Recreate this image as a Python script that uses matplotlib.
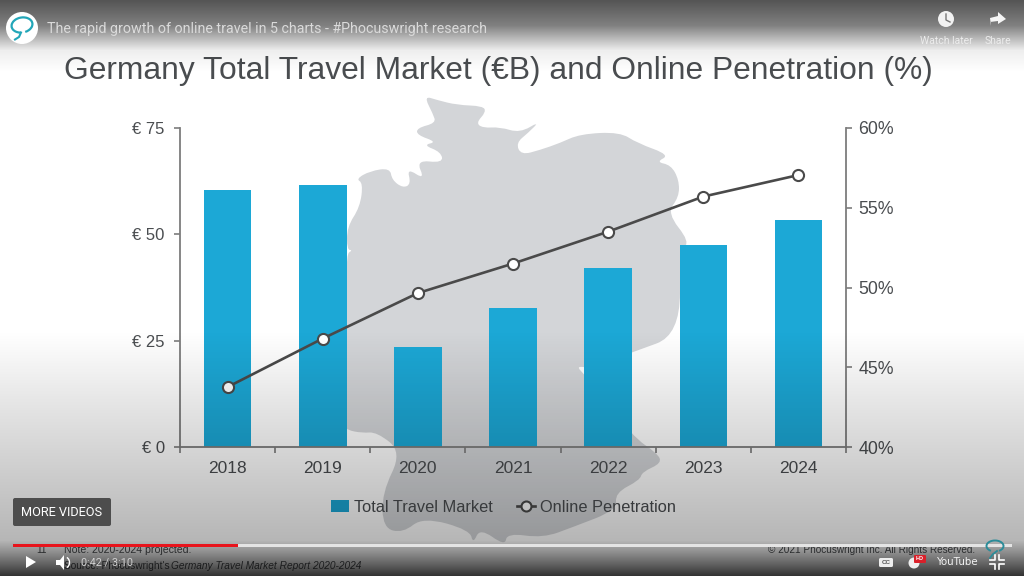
import numpy as np
import matplotlib
matplotlib.use("Agg")
import matplotlib.pyplot as plt
from matplotlib.patches import Polygon, Circle, Rectangle, FancyBboxPatch, PathPatch, Arc
from matplotlib.path import Path
from matplotlib.lines import Line2D

plt.rcParams['font.family'] = ['Liberation Sans', 'DejaVu Sans']

# Data
years = ['2018', '2019', '2020', '2021', '2022', '2023', '2024']
market = [60.4, 61.6, 23.5, 32.7, 42.1, 47.5, 53.4]
online = [43.76, 46.8, 49.65, 51.5, 53.5, 55.7, 57.05]
left_ticks = [0, 25, 50, 75]
left_labels = ['€ 0', '€ 25', '€ 50', '€ 75']
right_ticks = [40, 45, 50, 55, 60]
right_labels = ['40%', '45%', '50%', '55%', '60%']

# Outline of the map behind the chart, in picture pixels
map_outline = [
    (424, 96), (437, 100), (457, 105), (483, 106), (486, 112), (476, 123), (483, 128),
    (500, 127), (520, 133), (540, 121), (528, 133), (516, 143), (521, 155), (540, 150),
    (560, 143), (580, 134), (620, 132), (637, 143), (670, 155), (656, 162), (671, 165),
    (679, 180), (679, 197), (667, 213), (690, 242), (680, 250), (680, 335), (633, 352),
    (590, 368), (576, 366), (585, 375), (633, 437), (657, 453), (662, 463), (642, 472),
    (640, 480), (615, 493), (617, 510), (573, 527), (543, 538), (507, 533), (505, 546),
    (480, 528), (473, 544), (470, 530), (423, 517), (403, 533), (383, 528), (382, 493),
    (402, 452), (377, 432), (362, 433), (347, 430), (345, 425), (345, 255), (353, 250),
    (347, 250), (347, 227), (360, 207), (363, 183), (356, 179), (370, 171), (390, 168),
    (392, 180), (403, 188), (411, 184), (407, 168), (425, 180), (416, 160), (443, 163),
    (441, 152), (423, 145), (437, 142), (417, 135), (417, 128), (436, 123), (433, 114),
]

W, H = 1024, 576
TEXT = '#4a4d50'
AXIS = '#7d7d7d'
BAR = '#1ca8d6'

fig = plt.figure(figsize=(W / 100, H / 100), dpi=100, facecolor='white')


def pixel_axes(zorder):
    a = fig.add_axes([0, 0, 1, 1], zorder=zorder)
    a.set_xlim(0, W)
    a.set_ylim(H, 0)
    a.axis('off')
    a.patch.set_alpha(0)
    return a


def rounded_path(points):
    # quadratic curves through the midpoints, the map has soft edges
    pts = np.array(points, dtype=float)
    mids = (pts + np.roll(pts, -1, axis=0)) / 2
    verts = [mids[-1]]
    codes = [Path.MOVETO]
    for p, m in zip(pts, mids):
        verts += [p, m]
        codes += [Path.CURVE3, Path.CURVE3]
    return Path(verts, codes)


# Slide background and map
back = pixel_axes(0)
back.add_patch(PathPatch(rounded_path(map_outline), facecolor='#d3d5d8', edgecolor='none'))
back.text(498, 71, 'Germany Total Travel Market (€B) and Online Penetration (%)',
          ha='center', va='center', fontsize=22.9, color=TEXT)
back.text(42, 550, '11', ha='center', va='center', fontsize=7.3, color=TEXT)
back.text(64, 550, 'Note: 2020-2024 projected.', va='center', fontsize=7.6, color=TEXT)
back.text(64, 566, "Source: Phocuswright's", va='center', fontsize=7.3, color=TEXT)
back.text(171, 566, 'Germany Travel Market Report 2020-2024', va='center', fontsize=7.3,
          style='italic', color=TEXT)
back.text(975, 550, '© 2021 Phocuswright Inc. All Rights Reserved.', ha='right', va='center',
          fontsize=7.2, color=TEXT)

# Chart
ax = fig.add_axes([180 / W, (H - 447) / H, 666 / W, 319 / H], zorder=1)
ax.patch.set_alpha(0)
x = np.arange(len(years))
bars = ax.bar(x, market, width=0.5, color=BAR, zorder=2)
ax.set_xlim(-0.5, 6.5)
ax.set_ylim(0, 75)
ax.set_yticks(left_ticks)
ax.set_yticklabels(left_labels, fontsize=12, color=TEXT)
ax.set_xticks(np.arange(-0.5, 7, 1))
ax.set_xticklabels([])
ax.set_xticks(x, minor=True)
ax.set_xticklabels(years, minor=True, fontsize=12.5, color=TEXT)
ax.tick_params(axis='x', which='major', length=4, width=1.2, color=AXIS)
ax.tick_params(axis='x', which='minor', length=0, pad=10)
ax.tick_params(axis='y', length=4, width=1.2, color=AXIS, pad=7)
for side in ['top', 'right']:
    ax.spines[side].set_visible(False)
for side in ['left', 'bottom']:
    ax.spines[side].set_color(AXIS)
    ax.spines[side].set_linewidth(1.3)

ax2 = ax.twinx()
ax2.patch.set_alpha(0)
line, = ax2.plot(x, online, color='#4a4a4a', linewidth=1.9, marker='o', markersize=8,
                 markerfacecolor='white', markeredgecolor='#4a4a4a', markeredgewidth=1.5,
                 clip_on=False)
ax2.set_ylim(40, 60)
ax2.set_yticks(right_ticks)
ax2.set_yticklabels(right_labels, fontsize=12.8, color=TEXT)
ax2.tick_params(axis='y', length=4, width=1.2, color=AXIS, pad=5)
for side in ['top', 'left', 'bottom']:
    ax2.spines[side].set_visible(False)
ax2.spines['right'].set_color(AXIS)
ax2.spines['right'].set_linewidth(1.3)

ax2.legend([bars, line], ['Total Travel Market', 'Online Penetration'], ncol=2,
           loc='center', bbox_to_anchor=((503.5 - 180) / 666, (447 - 507) / 319), frameon=False,
           fontsize=11.8, labelcolor=TEXT, handlelength=1.1, handletextpad=0.3,
           columnspacing=1.45, handleheight=0.7, markerscale=0.9)

# Video player shading over the slide
shade = pixel_axes(2)
rows = np.arange(H)
level = np.interp(rows, [0, 25, 50, 72, 330, 400, 480, 540, 552, 565, 576],
                  [0.33, 0.50, 0.93, 1.0, 1.0, 0.90, 0.79, 0.71, 0.55, 0.36, 0.18])
rgba = np.zeros((H, 1, 4))
rgba[:, 0, 3] = 1 - level
shade.imshow(rgba, extent=(0, W, H, 0), aspect='auto', interpolation='bilinear')
shade.set_xlim(0, W)
shade.set_ylim(H, 0)

# Player controls
ui = pixel_axes(3)
ui.add_patch(Circle((22, 28), 16, facecolor='white', edgecolor='none'))
ui.add_patch(Arc((22, 25), 21, 15, angle=-10, theta1=-250, theta2=75, edgecolor='#22a6b8',
                 linewidth=1.6))
ui.add_line(Line2D([21, 19, 15], [32.5, 37, 39.5], color='#22a6b8', linewidth=1.5))
ui.text(47, 29, 'The rapid growth of online travel in 5 charts - #Phocuswright research',
        va='center', fontsize=10.3, color='#dadada', family='Roboto')
ui.add_patch(Circle((946, 19), 8, facecolor='#f2f2f2', edgecolor='none'))
ui.add_line(Line2D([946, 946, 950], [14, 20, 22], color='#777777', linewidth=1))
ui.add_patch(Polygon([(998, 12), (1006, 19), (998, 24), (998, 21), (990, 22), (991, 26),
                      (990, 18), (998, 16)], facecolor='#f5f5f5', edgecolor='none'))
ui.text(946, 41, 'Watch later', ha='center', va='center', fontsize=7.5, color='#ececec',
        family='Roboto')
ui.text(998, 41, 'Share', ha='center', va='center', fontsize=7.5, color='#ececec',
        family='Roboto')

ui.add_patch(FancyBboxPatch((13, 498), 98, 28, boxstyle='round,pad=0,rounding_size=2',
                            facecolor='#4d4d4d', edgecolor='none'))
ui.text(62, 512, 'MORE VIDEOS', ha='center', va='center', fontsize=9.2, color='white',
        family='Roboto')

ui.add_patch(Rectangle((13, 544), 999, 3, facecolor='#e4e4e4', edgecolor='none'))
ui.add_patch(Rectangle((13, 544), 225, 3, facecolor='#e8141c', edgecolor='none'))

ui.add_patch(Polygon([(26, 556), (36, 562), (26, 568)], facecolor='white', edgecolor='none'))
ui.add_patch(Polygon([(56, 560), (60, 560), (64, 555), (64, 570), (60, 565), (56, 565)],
                     facecolor='white', edgecolor='none'))
ui.add_patch(Arc((65, 562.5), 9, 11, theta1=-70, theta2=70, edgecolor='white', linewidth=1))
ui.text(81, 562, '0:42 / 3:10', va='center', fontsize=7.8, color='#d0d0d0', family='Roboto')

ui.add_patch(FancyBboxPatch((879, 558), 14, 9, boxstyle='round,pad=0,rounding_size=1.5',
                            facecolor='#eeeeee', edgecolor='none'))
ui.text(886, 562.5, 'CC', ha='center', va='center', fontsize=4.5, color='#555555',
        weight='bold')
ui.add_patch(Circle((914, 563), 5.5, facecolor='#eeeeee', edgecolor='none'))
ui.add_patch(FancyBboxPatch((914, 555), 12, 8, boxstyle='round,pad=0,rounding_size=1',
                            facecolor='#d9202a', edgecolor='none'))
ui.text(920, 559, 'HD', ha='center', va='center', fontsize=4, color='white', weight='bold')
ui.text(956.5, 562, 'YouTube', ha='center', va='center', fontsize=7.4, color='#f2f2f2',
        family='Liberation Sans Narrow')
# exit fullscreen corners
for sx, sy in [(-1, -1), (1, -1), (-1, 1), (1, 1)]:
    cx, cy = 997 + sx * 2, 562 + sy * 2
    ui.add_line(Line2D([cx + sx * 5, cx, cx], [cy, cy, cy + sy * 5], color='white',
                       linewidth=1.2))

# Phocuswright mark at the slide corner
ui.add_patch(Arc((995, 546), 17, 11, theta1=-230, theta2=50, edgecolor='#2b8c99', linewidth=1.4))
ui.add_line(Line2D([997, 993, 990], [551, 554, 558], color='#2b8c99', linewidth=1.3))

fig.savefig('out.png', dpi=100)
